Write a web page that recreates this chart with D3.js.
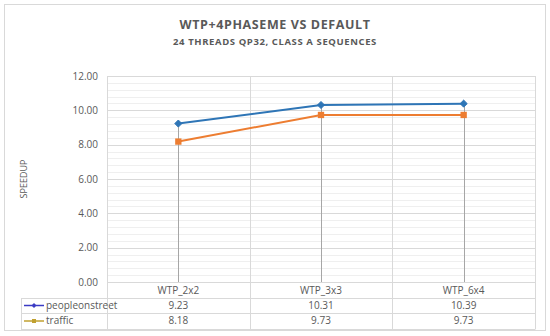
<!DOCTYPE html>
<html>
<head>
<meta charset="utf-8">
<script src="https://cdn.jsdelivr.net/npm/d3@7"></script>
<style>
  body { margin: 0; background: #fff; }
  text { font-family: "Open Sans", "Noto Sans", sans-serif; fill: #595959; }
</style>
</head>
<body>
<div id="chart"></div>
<script>
// data
const categories = ["WTP_2x2", "WTP_3x3", "WTP_6x4"];
const peopleonstreet = [9.23, 10.31, 10.39];
const traffic = [8.18, 9.73, 9.73];
const yTicks = [0, 2, 4, 6, 8, 10, 12];

const series = [
    { name: "peopleonstreet", values: peopleonstreet, color: "#2e75b6", key: "#3b3bc4", shape: d3.symbolDiamond2 },
    { name: "traffic", values: traffic, color: "#ed7d31", key: "#c0a030", shape: d3.symbolSquare }
];

function main() {
    const width = 550, height = 336;
    const svg = d3.select("#chart").append("svg")
        .attr("width", width)
        .attr("height", height);

    // outer frame
    svg.append("rect")
        .attr("x", 4.5).attr("y", 4.5)
        .attr("width", 541).attr("height", 326)
        .attr("fill", "#fff").attr("stroke", "#d9d9d9");

    // titles
    svg.append("text")
        .attr("x", 275).attr("y", 29)
        .attr("text-anchor", "middle")
        .style("font-size", "12.5px").style("font-weight", "bold")
        .style("letter-spacing", "0.6px")
        .text("WTP+4PHASEME VS DEFAULT");
    svg.append("text")
        .attr("x", 275).attr("y", 45)
        .attr("text-anchor", "middle")
        .style("font-size", "9.5px").style("font-weight", "bold")
        .style("letter-spacing", "0.6px")
        .text("24 THREADS QP32, CLASS A SEQUENCES");

    const left = 107, right = 535, top = 76, bottom = 282;

    const x = d3.scaleBand().domain(categories).range([left, right]);
    const y = d3.scaleLinear().domain([0, 12]).range([bottom, top]);

    // minor gridlines
    const minor = d3.range(0, 12.001, 0.4);
    svg.append("g").selectAll("line")
        .data(minor)
        .enter().append("line")
        .attr("x1", left).attr("x2", right)
        .attr("y1", d => Math.round(y(d)) + 0.5)
        .attr("y2", d => Math.round(y(d)) + 0.5)
        .attr("stroke", "#efefef");

    // major gridlines
    svg.append("g").selectAll("line")
        .data(yTicks)
        .enter().append("line")
        .attr("x1", left).attr("x2", right)
        .attr("y1", d => Math.round(y(d)) + 0.5)
        .attr("y2", d => Math.round(y(d)) + 0.5)
        .attr("stroke", "#d9d9d9");

    // vertical gridlines at category boundaries
    const bounds = categories.map(c => x(c)).concat([right]);
    svg.append("g").selectAll("line")
        .data(bounds)
        .enter().append("line")
        .attr("x1", d => Math.round(d) + 0.5).attr("x2", d => Math.round(d) + 0.5)
        .attr("y1", top).attr("y2", bottom)
        .attr("stroke", "#d9d9d9");

    // y tick labels
    svg.append("g").selectAll("text")
        .data(yTicks)
        .enter().append("text")
        .attr("x", 98)
        .attr("y", d => y(d) + 3.5)
        .attr("text-anchor", "end")
        .style("font-size", "10px")
        .text(d => d.toFixed(2));

    svg.append("text")
        .attr("transform", "translate(27,179) rotate(-90)")
        .attr("text-anchor", "middle")
        .style("font-size", "9px")
        .text("SPEEDUP");

    const cx = c => x(c) + x.bandwidth() / 2;

    // drop lines from highest point
    svg.append("g").selectAll("line")
        .data(categories)
        .enter().append("line")
        .attr("x1", c => Math.round(cx(c)) + 0.5).attr("x2", c => Math.round(cx(c)) + 0.5)
        .attr("y1", (c, i) => y(d3.max(series, s => s.values[i])))
        .attr("y2", bottom)
        .attr("stroke", "#a6a6a6");

    // lines and markers
    const line = d3.line()
        .x((d, i) => cx(categories[i]))
        .y(d => y(d));

    series.forEach(s => {
        svg.append("path")
            .datum(s.values)
            .attr("d", line)
            .attr("fill", "none")
            .attr("stroke", s.color)
            .attr("stroke-width", 2);
        svg.append("g").selectAll("path")
            .data(s.values)
            .enter().append("path")
            .attr("transform", (d, i) => `translate(${cx(categories[i])},${y(d)})`)
            .attr("d", d3.symbol().type(s.shape).size(s.shape === d3.symbolSquare ? 40 : 32))
            .attr("fill", s.color)
            .attr("stroke", s.shape === d3.symbolSquare ? "none" : s.color)
            .attr("stroke-width", 1);
    });

    // data table
    const rowH = 15.5;
    const tableTop = bottom;
    const keyLeft = 21;
    const grid = svg.append("g").attr("stroke", "#d9d9d9").attr("fill", "none");
    // horizontal lines
    [1, 2, 3].forEach(r => {
        grid.append("line")
            .attr("x1", keyLeft).attr("x2", right)
            .attr("y1", Math.round(tableTop + r * rowH) + 0.5).attr("y2", Math.round(tableTop + r * rowH) + 0.5);
    });
    // vertical lines
    bounds.forEach(b => {
        grid.append("line")
            .attr("x1", Math.round(b) + 0.5).attr("x2", Math.round(b) + 0.5)
            .attr("y1", tableTop).attr("y2", Math.round(tableTop + 3 * rowH) + 0.5);
    });
    grid.append("line")
        .attr("x1", keyLeft + 0.5).attr("x2", keyLeft + 0.5)
        .attr("y1", Math.round(tableTop + rowH)).attr("y2", Math.round(tableTop + 3 * rowH) + 0.5);

    // category labels
    svg.append("g").selectAll("text")
        .data(categories)
        .enter().append("text")
        .attr("x", c => cx(c))
        .attr("y", tableTop + rowH - 4)
        .attr("text-anchor", "middle")
        .style("font-size", "10px")
        .text(c => c);

    series.forEach((s, r) => {
        const rowY = tableTop + (r + 1) * rowH;
        svg.append("line")
            .attr("x1", 24).attr("x2", 44)
            .attr("y1", rowY + 8).attr("y2", rowY + 8)
            .attr("stroke", s.key).attr("stroke-width", 1.5);
        svg.append("path")
            .attr("transform", `translate(34,${rowY + 8})`)
            .attr("d", d3.symbol().type(s.shape).size(16))
            .attr("fill", s.key);
        svg.append("text")
            .attr("x", 46).attr("y", rowY + 11)
            .style("font-size", "10px")
            .text(s.name);
        svg.append("g").selectAll("text")
            .data(s.values)
            .enter().append("text")
            .attr("x", (d, i) => cx(categories[i]))
            .attr("y", rowY + 11)
            .attr("text-anchor", "middle")
            .style("font-size", "10px")
            .text(d => d.toFixed(2));
    });
}

main();
</script>
</body>
</html>
